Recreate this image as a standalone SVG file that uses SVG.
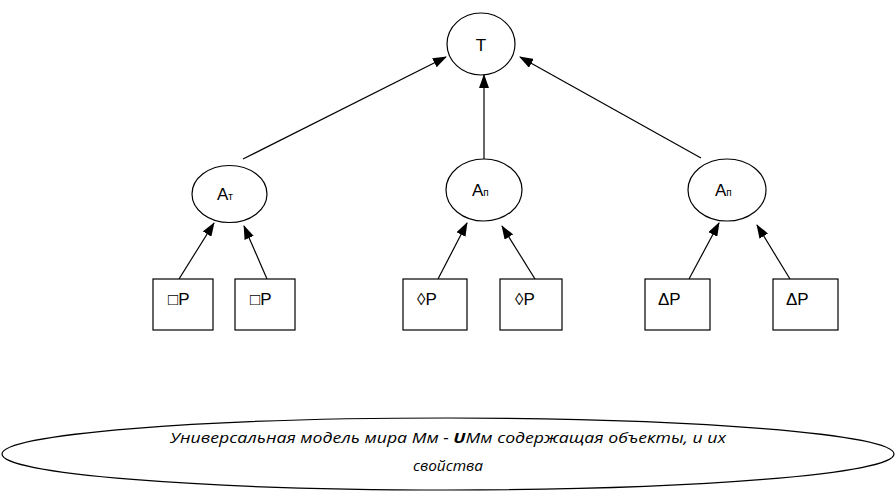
<svg xmlns="http://www.w3.org/2000/svg" width="896" height="492" viewBox="0 0 896 492">
<style>
.n{fill:#fff;stroke:#000;stroke-width:1.2}
.t{font-family:"Liberation Sans",Arial,sans-serif;font-size:17px;fill:#000}
.s{font-size:10px}
.c{stroke:#000;stroke-width:1.2;fill:none;marker-end:url(#ah)}
.b{font-family:"Open Sans","Liberation Sans",sans-serif;font-style:italic;font-size:14px;fill:#000}
</style>
<defs>
<marker id="ah" markerUnits="userSpaceOnUse" markerWidth="14" markerHeight="10" refX="13" refY="5" orient="auto">
<path d="M0,0 L14,5 L0,10 Z" fill="#000"/>
</marker>
</defs>
<rect width="896" height="492" fill="#fff"/>
<g id="connectors">
<line class="c" x1="243" y1="159" x2="446" y2="57"/>
<line class="c" x1="484" y1="159" x2="484" y2="75"/>
<line class="c" x1="701" y1="158" x2="520" y2="57"/>
<line class="c" x1="179" y1="279" x2="214" y2="223"/>
<line class="c" x1="267" y1="279" x2="244" y2="226"/>
<line class="c" x1="438" y1="279" x2="467" y2="223"/>
<line class="c" x1="535" y1="279" x2="502" y2="226"/>
<line class="c" x1="689" y1="279" x2="719" y2="223"/>
<line class="c" x1="790" y1="279" x2="757" y2="225"/>
</g>
<g id="T">
<ellipse class="n" cx="481" cy="44" rx="34" ry="31"/>
<text class="t" x="481" y="51" text-anchor="middle" font-size="18">T</text>
</g>
<g id="A1">
<ellipse class="n" cx="229.5" cy="194" rx="37.5" ry="28.5"/>
<text class="t" x="217" y="200" font-size="16">A<tspan class="s">т</tspan></text>
</g>
<g id="A2">
<ellipse class="n" cx="484" cy="190" rx="38" ry="31"/>
<text class="t" x="472" y="196" font-size="16">A<tspan class="s" font-size="11">п</tspan></text>
</g>
<g id="A3">
<ellipse class="n" cx="727" cy="190" rx="39" ry="31"/>
<text class="t" x="715" y="196" font-size="16">A<tspan class="s" font-size="11">п</tspan></text>
</g>
<g id="B1"><rect class="n" x="153" y="279" width="60" height="51"/><text class="t" x="168" y="305">□P</text></g>
<g id="B2"><rect class="n" x="235" y="279" width="60" height="51"/><text class="t" x="250" y="305">□P</text></g>
<g id="B3"><rect class="n" x="403" y="279" width="64" height="51"/><text class="t" x="417" y="305">◊P</text></g>
<g id="B4"><rect class="n" x="500" y="279" width="62" height="51"/><text class="t" x="515" y="305">◊P</text></g>
<g id="B5"><rect class="n" x="645" y="279" width="65" height="51"/><text class="t" x="658" y="305">ΔP</text></g>
<g id="B6"><rect class="n" x="773" y="279" width="65" height="51"/><text class="t" x="786" y="305">ΔP</text></g>
<g id="world">
<ellipse class="n" cx="448" cy="454" rx="446" ry="36"/>
<text class="b" x="448" y="443" text-anchor="middle" textLength="556" lengthAdjust="spacingAndGlyphs">Универсальная  модель мира Мм - <tspan font-weight="bold">U</tspan>Мм содержащая объекты, и их</text>
<text class="b" x="448" y="471" text-anchor="middle" textLength="70" lengthAdjust="spacingAndGlyphs">свойства</text>
</g>
</svg>
